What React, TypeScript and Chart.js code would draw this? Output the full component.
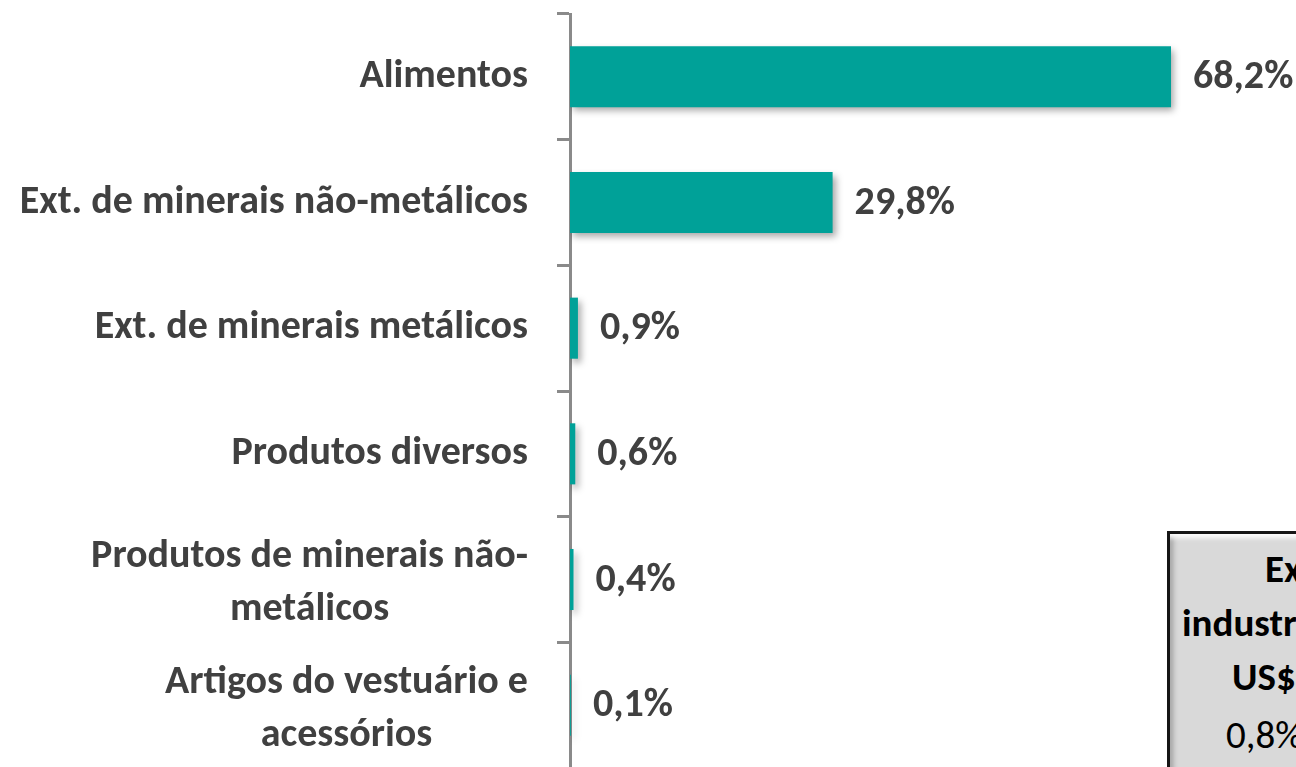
import React, { useEffect, useRef } from "react";
import { Chart, registerables } from "chart.js";

Chart.register(...registerables);

const categories: (string | string[])[] = [
  "Alimentos",
  "Ext. de minerais não-metálicos",
  "Ext. de minerais metálicos",
  "Produtos diversos",
  ["Produtos de minerais não-", "metálicos"],
  ["Artigos do vestuário e", "acessórios"],
];
const shares = [68.2, 29.8, 0.9, 0.6, 0.4, 0.1];
const boxTitleLines = ["Exportações", "industriais em", "US$ milhões"];
const boxValueLine = "0,8% do total";

const FONT = "Carlito, Lato, 'Open Sans', sans-serif";
const FS = 40;
const LINE = 53;
const TEXT = "#404040";
const BAR = "#00A198";
const AXIS = "#8a8a8a";
const TICK_LEN = 13;
const LABEL_GAP = 29;

const fmt = (v: number) => v.toFixed(1).replace(".", ",") + "%";

const barShadow = {
  id: "barShadow",
  beforeDatasetsDraw(chart: any) {
    const c = chart.ctx;
    c.save();
    c.shadowColor = "rgba(0,0,0,0.35)";
    c.shadowBlur = 7;
    c.shadowOffsetX = 3;
    c.shadowOffsetY = 4;
  },
  afterDatasetsDraw(chart: any) {
    chart.ctx.restore();
  },
};

const valueLabels = {
  id: "valueLabels",
  afterDatasetsDraw(chart: any) {
    const ctx = chart.ctx;
    const meta = chart.getDatasetMeta(0);
    ctx.save();
    ctx.font = `bold ${FS}px ${FONT}`;
    ctx.fillStyle = TEXT;
    ctx.textAlign = "left";
    ctx.textBaseline = "middle";
    meta.data.forEach((bar: any, i: number) => {
      ctx.fillText(fmt(shares[i]), bar.x + 22, bar.y + 1);
    });
    ctx.restore();
  },
};

// Category labels: right-aligned block, lines centred within the block (as Excel wraps them)
const categoryLabels = {
  id: "categoryLabels",
  afterDraw(chart: any) {
    const scale = chart.scales.y;
    const ctx = chart.ctx;
    ctx.save();
    ctx.font = `bold ${FS}px ${FONT}`;
    ctx.fillStyle = TEXT;
    ctx.textAlign = "center";
    ctx.textBaseline = "middle";
    const right = scale.right - TICK_LEN - LABEL_GAP;
    categories.forEach((lab, i) => {
      const lines = Array.isArray(lab) ? lab : [lab];
      const w = Math.max(...lines.map((l) => ctx.measureText(l).width));
      const cx = right - w / 2;
      const yc = scale.getPixelForValue(i);
      const n = lines.length;
      const shift = n > 1 ? 4 : 0;
      lines.forEach((l, k) => {
        ctx.fillText(l, cx, yc + (k - (n - 1) / 2) * LINE + shift);
      });
    });
    ctx.restore();
  },
};

export default function App() {
  const ref = useRef<HTMLCanvasElement>(null);

  useEffect(() => {
    if (!ref.current) return;
    const chart = new Chart(ref.current, {
      type: "bar",
      data: {
        labels: categories as any,
        datasets: [
          {
            data: shares,
            backgroundColor: BAR,
            borderWidth: 0,
            categoryPercentage: 1,
            barPercentage: 0.486,
          },
        ],
      },
      options: {
        indexAxis: "y",
        animation: false,
        responsive: false,
        events: [],
        layout: { padding: { top: 14, right: 21, bottom: 0, left: 0 } },
        plugins: {
          legend: { display: false },
          tooltip: { enabled: false },
          title: { display: false },
        },
        scales: {
          x: {
            display: false,
            min: 0,
            max: 80,
          },
          y: {
            type: "category",
            offset: true,
            afterFit: (scale: any) => {
              scale.width = 570;
              scale.paddingTop = 0;
              scale.paddingBottom = 0;
            },
            border: { display: true, color: AXIS, width: 3 },
            grid: {
              offset: true,
              drawOnChartArea: false,
              drawTicks: true,
              tickLength: TICK_LEN,
              color: AXIS,
              lineWidth: 3,
            },
            ticks: {
              display: false,
            },
          },
        },
      },
      plugins: [barShadow, valueLabels, categoryLabels],
    });
    return () => chart.destroy();
  }, []);

  return (
    <div
      style={{
        position: "fixed",
        left: 0,
        top: 0,
        width: 1296,
        height: 767,
        overflow: "hidden",
        background: "#ffffff",
      }}
    >
      <canvas ref={ref} width={1296} height={768} style={{ display: "block" }} />
      <div
        style={{
          position: "absolute",
          left: 1167,
          top: 531,
          width: 400,
          height: 300,
          boxSizing: "border-box",
          border: "3px solid #161616",
          background: "#d9d9d9",
          boxShadow:
            "inset 0 7px 5px -3px rgba(255,255,255,0.95), inset 6px 0 5px -3px rgba(120,120,120,0.6)",
          fontFamily: FONT,
          fontSize: 39,
          color: "#000",
          lineHeight: "54px",
          paddingTop: 8,
          whiteSpace: "nowrap",
        }}
      >
        <div style={{ fontWeight: "bold", paddingLeft: 95 }}>{boxTitleLines[0]}</div>
        <div style={{ fontWeight: "bold", paddingLeft: 12 }}>{boxTitleLines[1]}</div>
        <div style={{ fontWeight: "bold", paddingLeft: 62 }}>{boxTitleLines[2]}</div>
        <div style={{ fontWeight: "normal", paddingLeft: 56, marginTop: 4 }}>{boxValueLine}</div>
      </div>
    </div>
  );
}
